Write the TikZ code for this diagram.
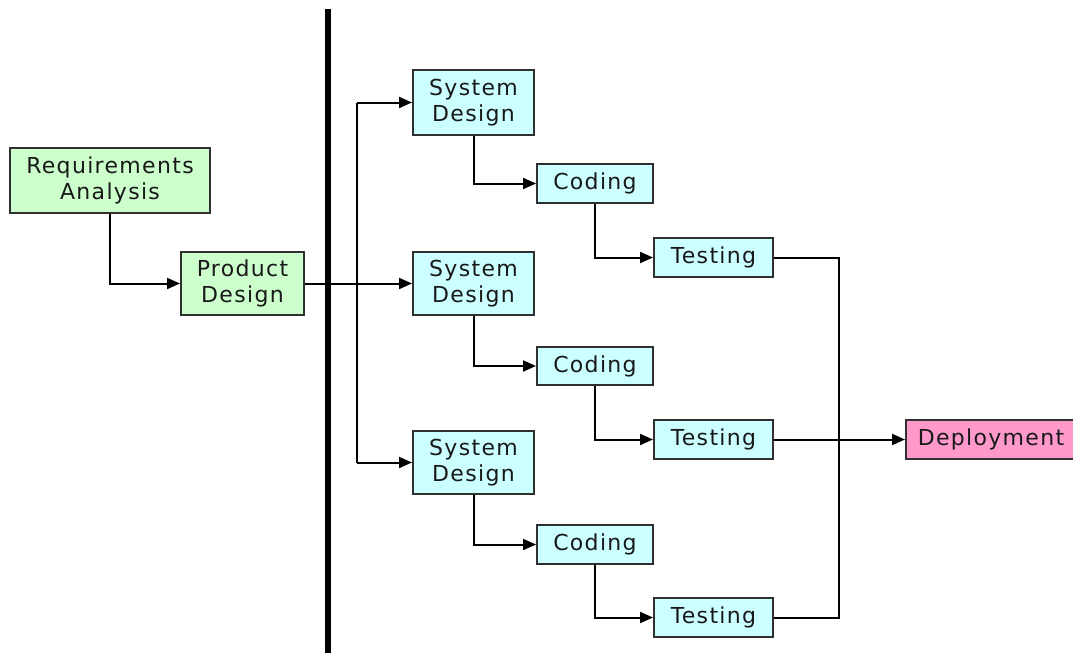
\documentclass[tikz,border=0pt]{standalone}
\usepackage{fontspec}
\newfontfamily\boxfont[LetterSpace=6]{DejaVu Sans}
\usetikzlibrary{arrows.meta,positioning}
\definecolor{reqgreen}{HTML}{CCFFCC}
\definecolor{devcyan}{HTML}{CCFFFF}
\definecolor{deppink}{HTML}{FF99CC}
\definecolor{edgegray}{HTML}{303030}
\tikzset{
  stage/.style={draw=edgegray, line width=2pt, rectangle, inner sep=0pt,
    align=center, font=\boxfont\fontsize{22}{26}\selectfont, text=black!90},
  greenbox/.style={stage, fill=reqgreen},
  cyanbox/.style={stage, fill=devcyan},
  pinkbox/.style={stage, fill=deppink},
  flow/.style={line width=2pt, -{Triangle[length=13pt,width=11pt]}},
  plain/.style={line width=2pt},
}
\begin{document}
\begin{tikzpicture}[x=1pt, y=-1pt]
\useasboundingbox (0,0) rectangle (1073,653);

% requirements and product design
\node[greenbox, minimum width=200pt, minimum height=65pt] (ra) at (110,180.5) {Requirements\\Analysis};
\node[greenbox, minimum width=123pt, minimum height=63pt] (pd) at (242.5,283.5) {Product\\Design};

% three parallel development tracks
\node[cyanbox, minimum width=121pt, minimum height=65pt] (sd1) at (473.5,102.5) {System\\Design};
\node[cyanbox, minimum width=121pt, minimum height=63pt] (sd2) at (473.5,283.5) {System\\Design};
\node[cyanbox, minimum width=121pt, minimum height=63pt] (sd3) at (473.5,462.5) {System\\Design};

\node[cyanbox, minimum width=116pt, minimum height=39pt] (c1) at (595,183.5) {Coding};
\node[cyanbox, minimum width=116pt, minimum height=38pt] (c2) at (595,366) {Coding};
\node[cyanbox, minimum width=116pt, minimum height=39pt] (c3) at (595,544.5) {Coding};

\node[cyanbox, minimum width=119pt, minimum height=39pt] (t1) at (713.5,257.5) {Testing};
\node[cyanbox, minimum width=119pt, minimum height=39pt] (t2) at (713.5,439.5) {Testing};
\node[cyanbox, minimum width=119pt, minimum height=39pt] (t3) at (713.5,617.5) {Testing};

\node[pinkbox, minimum width=170pt, minimum height=39pt] (dep) at (991,439.5) {Deployment};

% heavy separator
\coordinate (sepTop) at (327.5,9);
\coordinate (sepBot) at (327.5,653);
\draw[line width=6pt] (sepTop) -- (sepBot);

% connectors
\draw[flow] (ra.south) |- (pd.west);
\draw[flow] (pd.east) -- (sd2.west);
\coordinate (fanTop) at (357,102.5);
\coordinate (fanBot) at (357,462.5);
\draw[plain] (fanTop) -- (fanBot);
\draw[flow] (fanTop) -- (sd1.west);
\draw[flow] (fanBot) -- (sd3.west);

\draw[flow] (sd1.south) |- (c1.west);
\draw[flow] (sd2.south) |- (c2.west);
\draw[flow] (sd3.south) |- (c3.west);
\draw[flow] (c1.south) |- (t1.west);
\draw[flow] (c2.south) |- (t2.west);
\draw[flow] (c3.south) |- (t3.west);

\coordinate (mergeTop) at (839,257.5);
\coordinate (mergeBot) at (839,617.5);
\draw[plain] (t1.east) -- (mergeTop) -- (mergeBot) -- (t3.east);
\draw[flow] (t2.east) -- (dep.west);
\end{tikzpicture}
\end{document}
